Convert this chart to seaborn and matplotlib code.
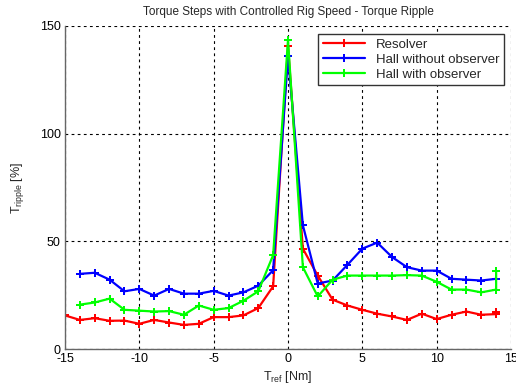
import numpy as np
import pandas as pd
import matplotlib
matplotlib.use("Agg")
import matplotlib.pyplot as plt
import seaborn as sns

# ---- data ----
resolver_x = list(range(-15, 15)) + [14]
resolver_y = [15.6, 13.5, 14.3, 13.1, 13.2, 11.7, 13.5, 12.3, 11.2, 11.7,
              14.8, 14.8, 15.6, 19.0, 29.1, 140.5, 46.6, 34.1, 22.9, 20.2,
              18.2, 16.4, 15.1, 13.5, 16.4, 13.9, 15.9, 17.4, 15.9, 16.2, 17.4]

hall_wo_x = list(range(-14, 15))
hall_wo_y = [34.9, 35.4, 32.2, 26.8, 27.9, 24.8, 27.9, 25.7, 25.7, 27.0,
             24.8, 26.3, 29.4, 36.6, 136.0, 57.5, 30.4, 31.8, 39.1, 46.6,
             49.4, 42.7, 38.0, 36.4, 36.4, 32.6, 32.2, 31.8, 32.6]

hall_w_x = list(range(-14, 15)) + [14]
hall_w_y = [20.6, 21.6, 23.4, 18.2, 17.8, 17.4, 17.6, 15.9, 20.2, 18.2,
            19.0, 22.4, 26.8, 43.6, 143.6, 38.0, 24.4, 32.2, 34.1, 34.1,
            34.1, 34.1, 34.3, 34.1, 31.2, 27.6, 27.6, 26.3, 27.6, 36.1]

series_names = ["Resolver", "Hall without observer", "Hall with observer"]
series_colors = ["#ff0000", "#0000ff", "#00ff00"]

title = "Torque Steps with Controlled Rig Speed - Torque Ripple"
x_ticks = [-15, -10, -5, 0, 5, 10, 15]
y_ticks = [0, 50, 100, 150]

frames = []
for name, xs, ys in zip(series_names,
                        [resolver_x, hall_wo_x, hall_w_x],
                        [resolver_y, hall_wo_y, hall_w_y]):
    frames.append(pd.DataFrame({"x": xs, "y": ys, "series": name,
                                "order": np.arange(len(xs))}))
df = pd.concat(frames, ignore_index=True)

# ---- style ----
sns.set_style("white")
plt.rcParams["font.family"] = ["Liberation Sans", "DejaVu Sans"]
plt.rcParams["mathtext.fontset"] = "custom"
plt.rcParams["mathtext.rm"] = "Liberation Sans"
plt.rcParams["axes.unicode_minus"] = False

fig = plt.figure(figsize=(5.16, 3.92), dpi=100)
ax = fig.add_axes([65/516, 1-349/392, 446/516, 323/392])

sns.lineplot(data=df, x="x", y="y", hue="series", hue_order=series_names,
             palette=series_colors, estimator=None, sort=False, units="series",
             marker="P", markersize=6, markeredgewidth=0, linewidth=1.6,
             ax=ax, legend=True)

ax.set_xlim(-15, 15)
ax.set_ylim(0, 150)
ax.set_xticks(x_ticks)
ax.set_yticks(y_ticks)
ax.tick_params(axis="both", direction="in", length=4, labelsize=9,
               colors="#555555", labelcolor="black", pad=3)
ax.grid(True, color="black", linestyle=(0, (2.5, 3)), linewidth=0.8)
for s in ["top", "right"]:
    ax.spines[s].set_visible(False)
for s in ["left", "bottom"]:
    ax.spines[s].set_color("#666666")
    ax.spines[s].set_linewidth(1.0)

ax.set_title(title, fontsize=8.5, pad=8)
ax.set_xlabel(r"T$_{\mathregular{ref}}$ [Nm]", fontsize=9, labelpad=3)
ax.set_ylabel(r"T$_{\mathregular{ripple}}$ [%]", fontsize=9, labelpad=10)

leg = ax.legend(loc="upper right", fontsize=9.5, frameon=True, fancybox=False,
                edgecolor="#333333", framealpha=1, borderpad=0.35,
                handlelength=3.2, labelspacing=0.2, borderaxespad=0,
                bbox_to_anchor=(0.984, 0.975))
leg.get_frame().set_linewidth(1.0)

fig.savefig("out.png", dpi=100)
